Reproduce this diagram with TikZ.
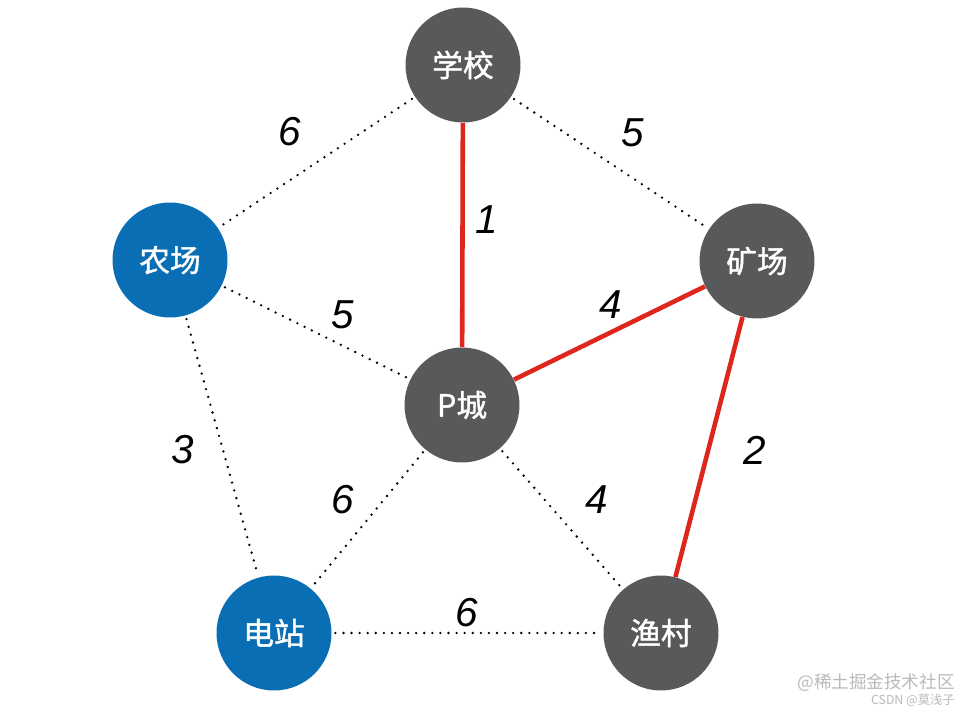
\documentclass[tikz,border=0pt]{standalone}
\usepackage{fontspec}
\setmainfont{Liberation Sans}
\newfontfamily\cjk{Noto Sans CJK SC}
\newfontfamily\cjkb[FakeBold=1.3]{Noto Sans CJK SC}
\usetikzlibrary{positioning}
\definecolor{nodegray}{RGB}{88,89,91}
\definecolor{nodeblue}{RGB}{10,110,180}
\definecolor{edgered}{RGB}{222,38,28}
\definecolor{wmgray}{RGB}{185,185,185}

\begin{document}
\begin{tikzpicture}[x=0.02cm, y=-0.02cm,
    town/.style={circle, fill=nodegray, minimum size=2.3cm, inner sep=0pt,
                 text=white, font=\cjkb\fontsize{17.5}{20}\selectfont},
    bluetown/.style={town, fill=nodeblue},
    road/.style={line width=1.5pt, dash pattern=on 0pt off 4.6pt, line cap=round,
                 shorten >=2pt, shorten <=2pt},
    chosen/.style={line width=2.6pt, draw=edgered},
    wt/.style={font=\itshape\fontsize{23}{26}\selectfont},
    wmark/.style={text=wmgray, inner sep=0pt}]
    \useasboundingbox (0,0) rectangle (977,713);

    % towns
    \node[town] (school) at (463,65) {学校};
    \node[bluetown] (farm) at (170,260) {农场};
    \node[town] (mine) at (757,261) {矿场};
    \node[town] (pcity) at (462,405) {P城};
    \node[bluetown] (plant) at (274,633) {电站};
    \node[town] (village) at (661,633) {渔村};

    % roads
    \draw[road] (school) -- (farm);
    \draw[road] (school) -- (mine);
    \draw[road] (farm) -- (pcity);
    \draw[road] (farm) -- (plant);
    \draw[road] (pcity) -- (plant);
    \draw[road] (pcity) -- (village);
    \draw[road] (plant) -- (village);

    % spanning tree
    \draw[chosen] (school) -- (pcity);
    \draw[chosen] (pcity) -- (mine);
    \draw[chosen] (mine) -- (village);

    % weights
    \node[wt] (w1) at (290,132) {6};
    \node[wt] (w2) at (633,133) {5};
    \node[wt] (w3) at (487,220) {1};
    \node[wt] (w4) at (343,315) {5};
    \node[wt] (w5) at (611,305) {4};
    \node[wt] (w6) at (755,450) {2};
    \node[wt] (w7) at (183,450) {3};
    \node[wt] (w8) at (343,500) {6};
    \node[wt] (w9) at (597,500) {4};
    \node[wt] (w10) at (467,613) {6};

    % watermark
    \node[wmark, anchor=east, font=\cjk\fontsize{10}{12}\selectfont] (wm1) at (955,683) {@稀土掘金技术社区};
    \node[wmark, anchor=east, font=\cjk\fontsize{7}{9}\selectfont] (wm2) at (955,700) {CSDN @莫浅子};
\end{tikzpicture}
\end{document}
